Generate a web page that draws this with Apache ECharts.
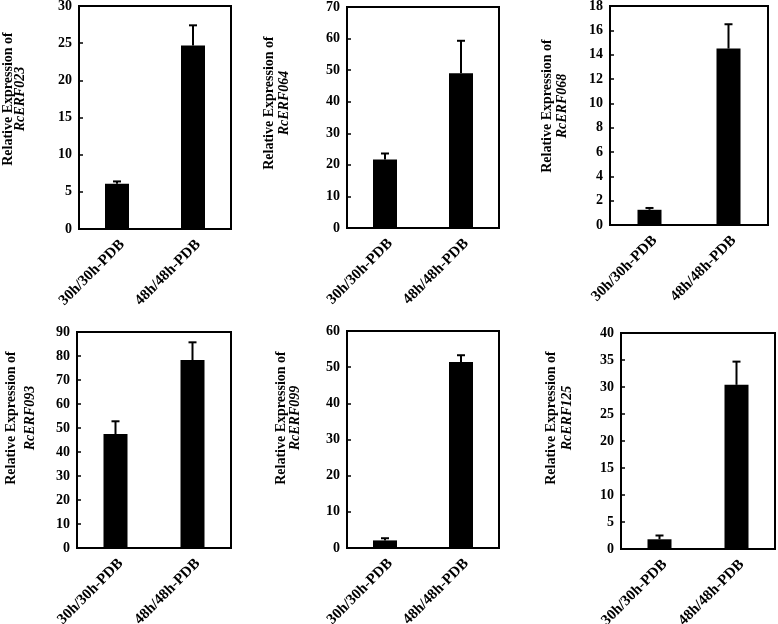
<!DOCTYPE html>
<html>
<head>
<meta charset="utf-8">
<script src="https://cdn.jsdelivr.net/npm/echarts@6/dist/echarts.min.js"></script>
<style>html,body{margin:0;padding:0;background:#fff;}#c{width:778px;height:624px;}</style>
</head>
<body>
<div id="c"></div>
<script>
// ---- data ----
var categories = ['30h/30h-PDB', '48h/48h-PDB'];
var genes = ['RcERF023', 'RcERF064', 'RcERF068', 'RcERF093', 'RcERF099', 'RcERF125'];
var erf023 = [6.1, 24.7];   var erf023Err = [0.3, 2.7];
var erf064 = [21.7, 49.0];  var erf064Err = [1.9, 10.3];
var erf068 = [1.25, 14.5];  var erf068Err = [0.15, 2.0];
var erf093 = [47.5, 78.3];  var erf093Err = [5.3, 7.4];
var erf099 = [2.1, 51.4];   var erf099Err = [0.6, 1.9];
var erf125 = [1.8, 30.4];   var erf125Err = [0.7, 4.3];
var yMax = [30, 70, 18, 90, 60, 40];
var yStep = [5, 10, 2, 10, 10, 5];

var means = [erf023, erf064, erf068, erf093, erf099, erf125];
var errs = [erf023Err, erf064Err, erf068Err, erf093Err, erf099Err, erf125Err];

// ---- layout ----
var grids = [
  {left: 79, top: 6, width: 152, height: 223},
  {left: 347, top: 7, width: 152, height: 221},
  {left: 610, top: 6, width: 158, height: 219},
  {left: 77, top: 332, width: 154, height: 216},
  {left: 347, top: 331, width: 152, height: 217},
  {left: 621, top: 333, width: 154, height: 216}
];
var titlePos = [
  {x1: 8.5, x2: 20, y: 99},
  {x1: 269.5, x2: 284, y: 103},
  {x1: 547.5, x2: 562.5, y: 106},
  {x1: 11, x2: 30, y: 418},
  {x1: 281.5, x2: 295.5, y: 418},
  {x1: 551.5, x2: 567.5, y: 418}
];

var FONT = '"Liberation Serif", "Times New Roman", serif';
var option = {
  animation: false,
  backgroundColor: '#fff',
  grid: [], xAxis: [], yAxis: [], series: [], graphic: []
};

for (var i = 0; i < 6; i++) {
  var g = grids[i];
  option.grid.push({left: g.left, top: g.top, width: g.width, height: g.height,
    containLabel: false, outerBoundsMode: 'none',
    show: true, borderColor: '#000', borderWidth: 2, backgroundColor: 'transparent'});
  option.xAxis.push({
    type: 'category', gridIndex: i, data: categories,
    axisLine: {show: true, lineStyle: {color: '#000', width: 2}},
    axisTick: {show: false},
    axisLabel: {rotate: 45, margin: 8, verticalAlign: 'top', color: '#000', fontFamily: FONT, fontSize: 15, fontWeight: 'bold'}
  });
  option.yAxis.push({
    type: 'value', gridIndex: i, min: 0, max: yMax[i], interval: yStep[i],
    splitLine: {show: false},
    axisLine: {show: true, lineStyle: {color: '#000', width: 2}},
    axisTick: {show: true, inside: true, length: 4, lineStyle: {color: '#000', width: 1.5}},
    axisLabel: {margin: 7, color: '#000', fontFamily: FONT, fontSize: 14, fontWeight: 'bold'}
  });
  option.series.push({
    type: 'bar', xAxisIndex: i, yAxisIndex: i, data: means[i], barWidth: 24,
    itemStyle: {color: '#000'}, z: 2
  });
  (function (idx) {
    var d = means[idx].map(function (v, k) { return [k, v, v + errs[idx][k]]; });
    option.series.push({
      type: 'custom', xAxisIndex: idx, yAxisIndex: idx, data: d, z: 3,
      renderItem: function (params, api) {
        var x = api.value(0);
        var p0 = api.coord([x, api.value(1)]);
        var p1 = api.coord([x, api.value(2)]);
        var hw = 4;
        return {
          type: 'group',
          children: [
            {type: 'line', shape: {x1: p0[0], y1: p0[1], x2: p1[0], y2: p1[1]},
             style: {stroke: '#000', lineWidth: 2}},
            {type: 'line', shape: {x1: p1[0] - hw, y1: p1[1], x2: p1[0] + hw, y2: p1[1]},
             style: {stroke: '#000', lineWidth: 2}}
          ]
        };
      }
    });
  })(i);
  var t = titlePos[i];
  option.graphic.push({
    type: 'text', x: t.x1, y: t.y, rotation: Math.PI / 2,
    style: {text: 'Relative Expression of', fill: '#000', font: 'bold 14px ' + FONT,
      textAlign: 'center', textVerticalAlign: 'middle'}
  });
  option.graphic.push({
    type: 'text', x: t.x2, y: t.y, rotation: Math.PI / 2,
    style: {text: genes[i], fill: '#000', font: 'italic bold 14px ' + FONT,
      textAlign: 'center', textVerticalAlign: 'middle'}
  });
}

var chart = echarts.init(document.getElementById('c'));
chart.setOption(option);
</script>
</body>
</html>
